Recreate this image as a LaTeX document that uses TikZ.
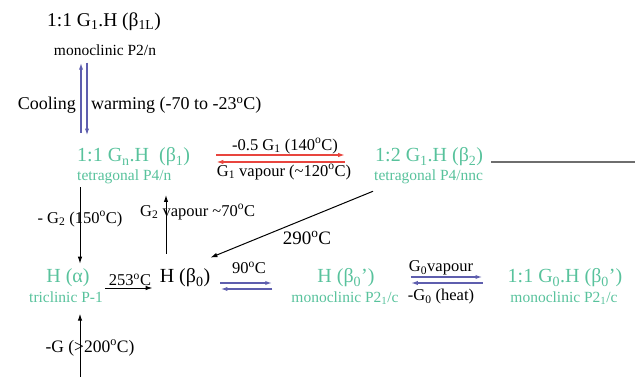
\documentclass[tikz,border=0pt]{standalone}
\usepackage{fontspec}
\setmainfont{Liberation Serif}
\usetikzlibrary{positioning,arrows.meta,calc}
\definecolor{phasegreen}{HTML}{58C29C}
\definecolor{revblue}{HTML}{5E5EAE}
\definecolor{heatred}{HTML}{E8453E}
\definecolor{edgegrey}{HTML}{6E6E6E}
\newcommand{\degC}{\textsuperscript{o}C}

\begin{document}
\begin{tikzpicture}[x=1pt,y=-1pt,
 big/.style={font=\fontsize{20}{22}\selectfont,inner sep=0pt},
 phase/.style={big,text=phasegreen},
 cell/.style={font=\fontsize{15.5}{17}\selectfont,text=phasegreen,inner sep=0pt},
 lab/.style={font=\fontsize{16.5}{18}\selectfont,inner sep=0pt},
 side/.style={font=\fontsize{18}{20}\selectfont,inner sep=0pt},
 conv/.style={-{Latex[length=7pt,width=4.5pt]},line width=1pt},
 rev/.style={-{Latex[length=7pt,width=4.2pt]},line width=1.5pt,revblue},
 hot/.style={-{Latex[length=7pt,width=4.5pt]},line width=1.6pt,heatred}]
\useasboundingbox (0,0) rectangle (635,377);
% Phases, top to bottom.
\node[big,font=\fontsize{19.5}{22}\selectfont] (b1L) at (104,22) {1:1 G\textsubscript{1}.H (β\textsubscript{1L})};
\node[cell,text=black] (b1Lcell) at (105,50) {monoclinic P2/n};
\node[phase,anchor=west] (b1) at (77,157) {1:1 G\textsubscript{n}.H\ \ (β\textsubscript{1})};
\node[cell,anchor=west] (b1cell) at (77,177) {tetragonal P4/n};
\node[phase,anchor=west] (b2) at (375,157) {1:2 G\textsubscript{1}.H (β\textsubscript{2})};
\node[cell,anchor=west] (b2cell) at (374,177) {tetragonal P4/nnc};
\node[phase] (alpha) at (68,278) {H (α)};
\node[cell] (alphacell) at (66,297) {triclinic P-1};
\node[big] (b0) at (185,278) {H (β\textsubscript{0})};
\node[phase] (b0p) at (346,278) {H (β\textsubscript{0}’)};
\node[cell] (b0pcell) at (345,298) {monoclinic P2\textsubscript{1}/c};
\node[phase] (g0) at (565,278) {1:1 G\textsubscript{0}.H (β\textsubscript{0}’)};
\node[cell] (g0cell) at (564,298) {monoclinic P2\textsubscript{1}/c};
% Cooling and warming.
\draw[rev] ($(b1.north west)+(4pt,15pt)$) -- ($(b1.north west |- b1Lcell.south)+(4pt,-7pt)$);
\draw[rev] ($(b1.north west |- b1Lcell.south)+(10pt,-7pt)$) -- ($(b1.north west)+(10pt,12pt)$);
\node[side,anchor=east] (cool) at (76,105) {Cooling};
\node[side,anchor=west] (warm) at (91,105) {warming (-70 to -23\degC)};
% Guest exchange between beta1 and beta2.
\draw[hot] ($(b1.east)+(26pt,2pt)$) -- ($(b2.west)+(-30pt,2pt)$);
\draw[hot] ($(b2.west)+(-30pt,-5pt)$) -- ($(b1.east)+(26pt,-5pt)$);
\node[lab] (hiT) at (285,146) {-0.5 G\textsubscript{1} (140\degC)};
\node[lab] (loT) at (284,172) {G\textsubscript{1} vapour (\textasciitilde120\degC)};
\coordinate (edge) at (635,162);
\draw[edgegrey,line width=1.2pt] ($(b2.east)+(8pt,-5pt)$) -- (edge);
% Paths down to the guest-free phases.
\draw[conv] ($(b1cell.south west)+(3pt,-3pt)$) -- ($(b1cell.south west |- alpha.north)+(3pt,5pt)$);
\node[lab] (lossG2) at (80,219) {- G\textsubscript{2} (150\degC)};
\coordinate (g2top) at (166,195);
\draw[conv] ($(b0.north -| g2top)+(0,15pt)$) -- (g2top);
\node[lab,anchor=west] (gainG2) at (140,212) {G\textsubscript{2} vapour \textasciitilde70\degC};
\draw[conv] ($(b2cell.south west)+(-1pt,-7pt)$) -- ($(b0.north east)+(0pt,11pt)$);
\node[side,font=\fontsize{19}{21}\selectfont] (t290) at (307,238) {290\degC};
\draw[conv] ($(alpha.east)+(15pt,-10pt)$) -- ($(b0.west)+(-7pt,-10pt)$);
\node[lab] (t253) at (130,280) {253\degC};
% Reversible steps on the bottom row.
\draw[rev] ($(b0.east)+(10pt,-5pt)$) -- ($(b0p.west)+(-45pt,-5pt)$);
\draw[rev] ($(b0p.west)+(-45pt,-11pt)$) -- ($(b0.east)+(10pt,-11pt)$);
\node[lab] (t90) at (249,268) {90\degC};
\draw[rev] ($(b0p.east)+(36pt,1pt)$) -- ($(g0.west)+(-25pt,1pt)$);
\draw[rev] ($(g0.west)+(-25pt,-5pt)$) -- ($(b0p.east)+(36pt,-5pt)$);
\node[lab] (g0in) at (441,268) {G\textsubscript{0}vapour};
\node[lab] (g0out) at (441,297) {-G\textsubscript{0} (heat)};
% From the solvated parent below.
\coordinate (base) at (80,377);
\draw[conv] (base) -- ($(base |- alphacell.south)+(0,-11pt)$);
\node[side,font=\fontsize{17.5}{19}\selectfont] (lossG) at (90,348) {-G (>200\degC)};
\end{tikzpicture}
\end{document}
